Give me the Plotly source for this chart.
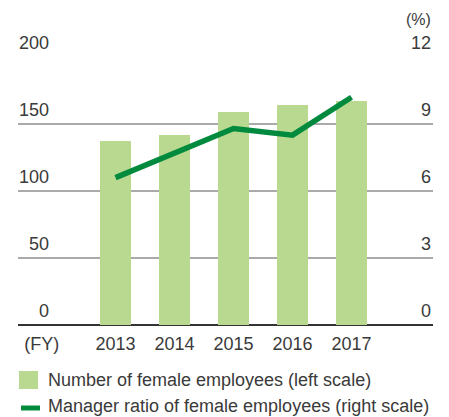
import plotly.graph_objects as go

years = [2013, 2014, 2015, 2016, 2017]
female_employees = [137, 142, 159, 164, 167]
manager_ratio = [6.6, 7.7, 8.8, 8.5, 10.2]
left_ticks = [0, 50, 100, 150, 200]
right_ticks = [0, 3, 6, 9, 12]
x_ticktext = ["(FY)"] + [str(y) for y in years]
legend_labels = ["Number of female employees (left scale)",
                 "Manager ratio of female employees (right scale)"]

BAR_COLOR = "#b8d98f"
LINE_COLOR = "#008a3e"
TEXT_COLOR = "#3a3a3a"
FONT = "Liberation Sans, Arial, sans-serif"
FS = 18

W, H = 449, 417
L, R, T, B = 18, 16, 57, 92
pw = W - L - R
ph = H - T - B

fig = go.Figure()
fig.add_trace(go.Bar(x=years, y=female_employees, width=0.525,
                     marker=dict(color=BAR_COLOR, line=dict(width=0)),
                     name=legend_labels[0], showlegend=False, yaxis="y"))
fig.add_trace(go.Scatter(x=years, y=manager_ratio, mode="lines",
                         line=dict(color=LINE_COLOR, width=5.5),
                         name=legend_labels[1], showlegend=False, yaxis="y2"))

annotations = []
for t in left_ticks:
    annotations.append(dict(text=str(t), xref="paper", x=(51 - L) / pw, xanchor="right",
                            yref="y", y=t, yanchor="middle", yshift=14, showarrow=False,
                            font=dict(size=FS, color=TEXT_COLOR, family=FONT)))
for t in right_ticks:
    annotations.append(dict(text=str(t), xref="paper", x=1, xanchor="right",
                            yref="y2", y=t, yanchor="middle", yshift=14, showarrow=False,
                            font=dict(size=FS, color=TEXT_COLOR, family=FONT)))
annotations.append(dict(text="(%)", xref="paper", x=1, xanchor="right",
                        yref="paper", y=1, yanchor="middle", yshift=38, showarrow=False,
                        font=dict(size=FS - 2, color=TEXT_COLOR, family=FONT)))

# manual legend
def px_x(px):
    return (px - L) / pw

def px_y(py):
    return (H - B - py) / ph

shapes = [
    dict(type="rect", xref="paper", yref="paper", x0=px_x(19), x1=px_x(38),
         y0=px_y(389), y1=px_y(371), fillcolor=BAR_COLOR, line=dict(width=0)),
    dict(type="line", xref="paper", yref="paper", x0=px_x(21), x1=px_x(40),
         y0=px_y(408), y1=px_y(408), line=dict(color=LINE_COLOR, width=5)),
]
annotations.append(dict(text=legend_labels[0], xref="paper", x=px_x(46), xanchor="left",
                        yref="paper", y=px_y(380), yanchor="middle", showarrow=False,
                        font=dict(size=FS, color=TEXT_COLOR, family=FONT)))
annotations.append(dict(text=legend_labels[1], xref="paper", x=px_x(46), xanchor="left",
                        yref="paper", y=px_y(406), yanchor="middle", showarrow=False,
                        font=dict(size=FS, color=TEXT_COLOR, family=FONT)))

fig.update_layout(
    width=W, height=H,
    margin=dict(l=L, r=R, t=T, b=B, pad=0),
    paper_bgcolor="white", plot_bgcolor="white",
    font=dict(family=FONT, size=FS, color=TEXT_COLOR),
    showlegend=False,
    bargap=0,
    xaxis=dict(range=[years[0] - 1.653, years[0] + 5.381],
               tickvals=[years[0] - 1.25] + years, ticktext=x_ticktext,
               showgrid=False, zeroline=False, showline=False, ticks="",
               ticklabelstandoff=6, fixedrange=True),
    yaxis=dict(range=[0, 200], tickvals=left_ticks, showticklabels=False,
               showgrid=True, gridcolor="#aaaaaa", gridwidth=1.5,
               zeroline=True, zerolinecolor="#333333", zerolinewidth=1.5,
               showline=False, ticks=""),
    yaxis2=dict(range=[0, 12], overlaying="y", side="right", showgrid=False,
                zeroline=False, showticklabels=False, showline=False, ticks=""),
    annotations=annotations,
    shapes=shapes,
)

fig.write_html("out.html", config={"displayModeBar": False},
               post_script="document.body.style.margin='0';document.body.style.overflow='hidden';")
